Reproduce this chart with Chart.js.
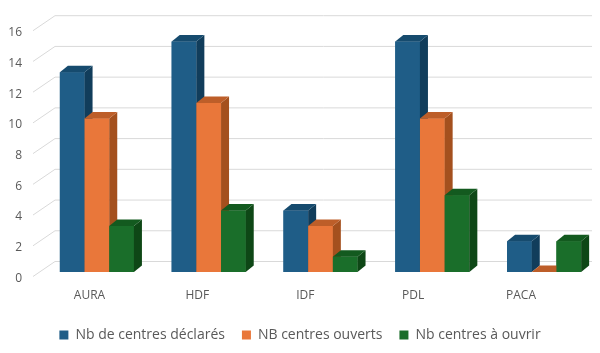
<!DOCTYPE html>
<html>
<head>
<meta charset="utf-8">
<script src="https://cdn.jsdelivr.net/npm/chart.js@4"></script>
<style>
html,body{margin:0;padding:0;background:#fff;}
#wrap{width:600px;height:353px;}
</style>
</head>
<body>
<div id="wrap"><canvas id="c" width="600" height="353"></canvas></div>
<script>
const categories = ["AURA", "HDF", "IDF", "PDL", "PACA"];
const seriesNames = ["Nb de centres déclarés", "NB centres ouverts", "Nb centres à ouvrir"];
const declared = [13, 15, 4, 15, 2];
const opened = [10, 11, 3, 10, 0];
const toOpen = [3, 4, 1, 5, 2];
const yTicks = [0, 2, 4, 6, 8, 10, 12, 14, 16];

const frontColors = ["#1f5d87", "#e9773a", "#1a6e2a"];
const sideColors = ["#113d5b", "#a4501e", "#0e4716"];
const topColors = ["#164b6e", "#bd5e29", "#135a1f"];
const DX = 8, DY = -6.5;

const wall3d = {
  id: "wall3d",
  beforeDatasetsDraw(chart) {
    const ctx = chart.ctx, y = chart.scales.y;
    ctx.save();
    ctx.strokeStyle = "#d9d9d9";
    ctx.lineWidth = 1;
    yTicks.forEach(v => {
      const py = y.getPixelForValue(v);
      ctx.beginPath();
      ctx.moveTo(33, py + 4.5);
      ctx.lineTo(55, py - 10.5);
      ctx.lineTo(592, py - 10.5);
      ctx.stroke();
    });
    ctx.restore();
  },
  afterDatasetsDraw(chart) {
    const ctx = chart.ctx;
    const n = chart.data.labels.length;
    ctx.save();
    for (let i = 0; i < n; i++) {
      chart.data.datasets.forEach((ds, d) => {
        const el = chart.getDatasetMeta(d).data[i];
        const w = el.width, l = el.x - w / 2, r = el.x + w / 2;
        const top = el.y, base = el.base;
        ctx.fillStyle = frontColors[d];
        ctx.fillRect(l, top, w, base - top);
        ctx.fillStyle = sideColors[d];
        ctx.beginPath();
        ctx.moveTo(r, top); ctx.lineTo(r + DX, top + DY);
        ctx.lineTo(r + DX, base + DY); ctx.lineTo(r, base);
        ctx.closePath(); ctx.fill();
        ctx.fillStyle = topColors[d];
        ctx.beginPath();
        ctx.moveTo(l, top); ctx.lineTo(l + DX, top + DY);
        ctx.lineTo(r + DX, top + DY); ctx.lineTo(r, top);
        ctx.closePath(); ctx.fill();
      });
    }
    ctx.restore();
  }
};

const values = [declared, opened, toOpen];
new Chart(document.getElementById("c"), {
  type: "bar",
  data: {
    labels: categories,
    datasets: values.map((v, d) => ({
      label: seriesNames[d],
      data: v,
      backgroundColor: frontColors[d],
      borderWidth: 0,
      categoryPercentage: 0.6625,
      barPercentage: 1.0
    }))
  },
  options: {
    responsive: false,
    animation: false,
    devicePixelRatio: 1,
    layout: { padding: { left: 0, right: 0, top: 26, bottom: 1 } },
    plugins: {
      tooltip: { enabled: false },
      legend: {
        position: "bottom",
        labels: {
          boxWidth: 9, boxHeight: 9, padding: 17,
          color: "#595959",
          font: { family: "'Open Sans'", size: 14 }
        }
      }
    },
    scales: {
      x: { display: false, offset: true },
      x2: {
        type: "linear",
        position: "bottom",
        offset: false,
        min: -0.4496, max: 4.732,
        afterBuildTicks: s => { s.ticks = categories.map((_, i) => ({ value: i })); },
        afterFit: s => { s.height = 39; },
        grid: { display: false, drawTicks: false },
        border: { display: false },
        ticks: {
          padding: 16,
          autoSkip: false,
          maxRotation: 0,
          color: "#595959",
          font: { family: "'Open Sans'", size: 12 },
          callback: v => categories[v] ?? ""
        }
      },
      y: {
        min: 0, max: 16,
        afterFit: s => { s.width = 41; },
        grid: { display: false, drawTicks: false },
        border: { display: false },
        ticks: {
          stepSize: 2,
          padding: 19,
          labelOffset: 6.5,
          color: "#595959",
          font: { family: "'Open Sans'", size: 12 }
        }
      }
    }
  },
  plugins: [wall3d]
});
</script>
</body>
</html>
